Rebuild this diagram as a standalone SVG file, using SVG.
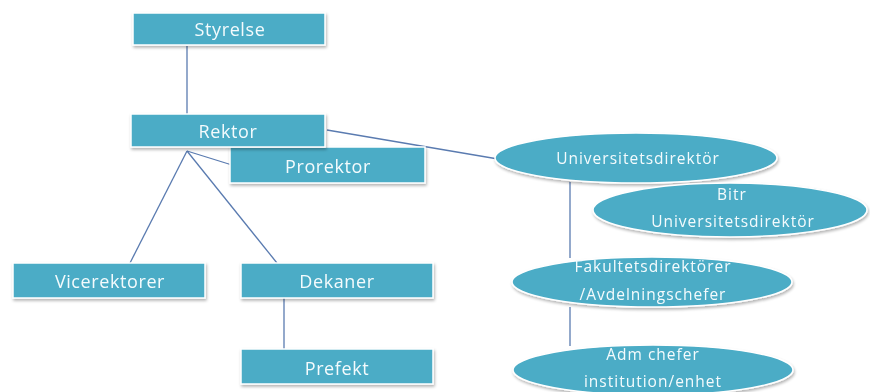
<svg xmlns="http://www.w3.org/2000/svg" width="870" height="392" viewBox="0 0 870 392">
<defs>
<style>
.box{fill:#4BACC6;stroke:#ffffff;stroke-width:1.5}
.t{font-family:"Open Sans","Liberation Sans",sans-serif;fill:#f4fbfd;text-anchor:middle}
.b{font-size:18px;letter-spacing:0.6px}
.e{font-size:15.5px;letter-spacing:1px}
.ln{stroke:#5a7bb0;stroke-width:1.3;fill:none}
</style>
<filter id="ds" x="-10%" y="-20%" width="120%" height="160%">
<feGaussianBlur in="SourceAlpha" stdDeviation="1.5"/>
<feOffset dx="1" dy="2" result="o"/>
<feComponentTransfer><feFuncA type="linear" slope="0.3"/></feComponentTransfer>
<feMerge><feMergeNode/><feMergeNode in="SourceGraphic"/></feMerge>
</filter>
</defs>
<rect width="870" height="392" fill="#ffffff"/>
<g id="connectors">
<line class="ln" x1="187" y1="46" x2="187" y2="115"/>
<line class="ln" x1="187" y1="151" x2="232" y2="165"/>
<line class="ln" x1="187" y1="151" x2="130" y2="263"/>
<line class="ln" x1="187" y1="151" x2="277" y2="263"/>
<line class="ln" x1="284" y1="298" x2="284" y2="349"/>
<line class="ln" x1="327" y1="130" x2="498" y2="159"/>
<line class="ln" x1="570" y1="182" x2="570" y2="258"/>
<line class="ln" x1="570" y1="307" x2="570" y2="346"/>
</g>
<g id="styrelse" filter="url(#ds)">
<rect class="box" x="133" y="13" width="192" height="32"/>
<text class="t b" x="230" y="36">Styrelse</text>
</g>
<g id="prorektor" filter="url(#ds)">
<rect class="box" x="230" y="147" width="195" height="36"/>
<text class="t b" x="328" y="173">Prorektor</text>
</g>
<g id="rektor" filter="url(#ds)">
<rect class="box" x="131" y="114" width="194" height="33"/>
<text class="t b" x="228" y="138">Rektor</text>
</g>
<g id="vicerektorer" filter="url(#ds)">
<rect class="box" x="13" y="263" width="192" height="35"/>
<text class="t b" x="110" y="288">Vicerektorer</text>
</g>
<g id="dekaner" filter="url(#ds)">
<rect class="box" x="241" y="263" width="192" height="35"/>
<text class="t b" x="337" y="288">Dekaner</text>
</g>
<g id="prefekt" filter="url(#ds)">
<rect class="box" x="241" y="349" width="192" height="35"/>
<text class="t b" x="337" y="375">Prefekt</text>
</g>
<g id="universitetsdirektor" filter="url(#ds)">
<ellipse class="box" cx="636" cy="158" rx="141" ry="25"/>
<text class="t e" x="638" y="164">Universitetsdirektör</text>
</g>
<g id="bitr" filter="url(#ds)">
<ellipse class="box" cx="730" cy="210" rx="137" ry="27"/>
<text class="t e" x="732" y="200">Bitr</text>
<text class="t e" x="733" y="227">Universitetsdirektör</text>
</g>
<g id="fakultetsdirektorer" filter="url(#ds)">
<ellipse class="box" cx="652" cy="282" rx="140" ry="25"/>
<text class="t e" x="653" y="272">Fakultetsdirektörer</text>
<text class="t e" x="653" y="300">/Avdelningschefer</text>
</g>
<g id="admchefer" filter="url(#ds)">
<ellipse class="box" cx="653" cy="370" rx="140" ry="25"/>
<text class="t e" x="653" y="360">Adm chefer</text>
<text class="t e" x="653" y="387">institution/enhet</text>
</g>
</svg>
